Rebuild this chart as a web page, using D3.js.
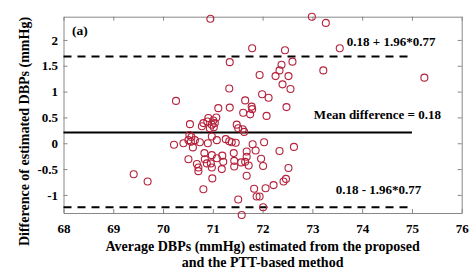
<!DOCTYPE html>
<html>
<head>
  <meta charset="UTF-8" />
  <title>Bland-Altman DBP</title>
  <script src="https://cdn.jsdelivr.net/npm/d3@7"></script>
  <style>
    body {
      margin: 0;
      padding: 0;
      background: #fff;
    }
    svg text {
      font-family: 'Liberation Serif', 'Times New Roman', serif;
      font-weight: bold;
      fill: #000;
    }
    .axis path,
    .axis line {
      stroke: #888;
    }
  </style>
</head>
<body>
  <div id="chart"></div>

<script>
  // Values
  // average DBPs (mmHg), x of each point
  const avgDBP = [
    70.95, 72.99, 73.27, 71.79, 72.45, 73.55, 72.60, 71.34, 72.38, 72.34,
    73.22, 75.25, 71.94, 72.26, 72.52, 72.40, 72.56, 71.33, 71.99, 72.12,
    70.26, 71.65, 71.11, 71.34, 71.78, 71.79, 72.48, 71.61, 71.75, 72.08,
    69.41, 69.69, 70.54, 70.91, 71.07, 70.81, 70.89, 71.01, 70.78, 70.98,
    71.04, 70.94, 71.02, 71.48, 71.51, 71.60, 71.63, 70.53, 70.57, 70.51,
    70.56, 70.64, 70.98, 71.08, 71.26, 71.33, 71.38, 71.46, 70.22, 70.41,
    70.60, 70.74, 70.90, 71.80, 72.03, 71.68, 71.86, 72.34, 72.63, 70.83,
    70.98, 71.19, 71.42, 70.51, 70.84, 71.08, 71.43, 71.57, 71.65, 71.68,
    71.97, 70.68, 70.88, 70.96, 71.21, 71.43, 71.72, 72.01, 70.71, 70.71,
    70.98, 71.18, 71.68, 70.99, 70.81, 71.83, 72.06, 72.22, 72.42, 72.47,
    72.52, 71.88, 71.94, 71.51, 72.01, 71.58
  ]
  // difference of estimated DBPs (mmHg), y of each point
  const diffDBP = [
    2.41, 2.45, 2.33, 1.84, 1.80, 1.84, 1.58, 1.57, 1.52, 1.41,
    1.41, 1.27, 1.32, 1.30, 1.30, 1.14, 1.05, 1.06, 0.95, 0.88,
    0.82, 0.83, 0.68, 0.69, 0.71, 0.66, 0.70, 0.59, 0.56, 0.53,
    -0.60, -0.74, 0.37, 0.49, 0.50, 0.39, 0.42, 0.44, 0.33, 0.36,
    0.39, 0.29, 0.31, 0.36, 0.29, 0.27, 0.22, 0.16, 0.12, 0.06,
    0.03, 0.06, 0.13, 0.06, 0.08, 0.04, 0.02, 0.01, -0.03, 0.00,
    -0.08, 0.02, 0.00, -0.02, 0.02, -0.16, -0.14, -0.15, -0.07, -0.19,
    -0.23, -0.24, -0.19, -0.31, -0.31, -0.29, -0.34, -0.37, -0.36, -0.26,
    -0.30, -0.40, -0.39, -0.39, -0.36, -0.45, -0.43, -0.44, -0.47, -0.54,
    -0.47, -0.50, -0.63, -0.68, -0.89, -0.88, -0.87, -0.81, -0.74, -0.69,
    -0.48, -1.03, -1.03, -1.09, -1.24, -1.39
  ]

  // reference lines (position as drawn in the figure)
  const meanDiff = 0.21
  const upperLoA = 1.68
  const lowerLoA = -1.24
  const lineSpan = [68, 75]

  const xTicks = [68, 69, 70, 71, 72, 73, 74, 75, 76]
  const yTicks = [-1, -0.5, 0, 0.5, 1, 1.5, 2]

  const width = 471
  const height = 274
  const margin = { top: 16.7, right: 9.3, bottom: 61, left: 63.5 }
  const plotW = width - margin.left - margin.right
  const plotH = height - margin.top - margin.bottom

  const svg = d3
    .select('#chart')
    .append('svg')
    .attr('width', width)
    .attr('height', height)

  const g = svg
    .append('g')
    .attr('transform', `translate(${margin.left},${margin.top})`)

  const x = d3.scaleLinear().domain([68, 76]).range([0, plotW])
  const y = d3.scaleLinear().domain([-1.35, 2.45]).range([plotH, 0])

  // axes, ticks pointing inward (box on)
  g.append('g')
    .attr('class', 'axis')
    .attr('transform', `translate(0,${plotH})`)
    .call(
      d3.axisBottom(x).tickValues(xTicks).tickSize(-4).tickSizeOuter(0).tickPadding(11)
    )
    .selectAll('text')
    .style('font-size', '13px')

  g.append('g')
    .attr('class', 'axis')
    .call(
      d3.axisTop(x).tickValues(xTicks).tickSize(-4).tickSizeOuter(0).tickFormat('')
    )

  g.append('g')
    .attr('class', 'axis')
    .call(
      d3.axisLeft(y).tickValues(yTicks).tickSize(-4).tickSizeOuter(0).tickPadding(5.5)
        .tickFormat((d) => String(d))
    )
    .selectAll('text')
    .style('font-size', '13px')

  g.append('g')
    .attr('class', 'axis')
    .attr('transform', `translate(${plotW},0)`)
    .call(
      d3.axisRight(y).tickValues(yTicks).tickSize(-4).tickSizeOuter(0).tickFormat('')
    )

  g.selectAll('.axis text').attr('fill', '#000')

  // limits of agreement and mean line
  const hLines = [
    { v: upperLoA, dash: '8,6' },
    { v: meanDiff, dash: null },
    { v: lowerLoA, dash: '8,6' },
  ]
  g.selectAll('.hline')
    .data(hLines)
    .enter()
    .append('line')
    .attr('class', 'hline')
    .attr('x1', x(lineSpan[0]))
    .attr('x2', x(lineSpan[1]))
    .attr('y1', (d) => y(d.v))
    .attr('y2', (d) => y(d.v))
    .attr('stroke', '#000')
    .attr('stroke-width', 2)
    .attr('stroke-dasharray', (d) => d.dash)

  // scatter points
  const points = avgDBP.map((a, i) => [a, diffDBP[i]])
  g.selectAll('.pt')
    .data(points)
    .enter()
    .append('circle')
    .attr('class', 'pt')
    .attr('cx', (d) => x(d[0]))
    .attr('cy', (d) => y(d[1]))
    .attr('r', 3.5)
    .attr('fill', 'none')
    .attr('stroke', '#b5213b')
    .attr('stroke-width', 1.1)

  // annotations
  const notes = [
    { t: '(a)', x: 68.17, y: 2.1, size: 13.5 },
    { t: '0.18 + 1.96*0.77', x: 73.69, y: 1.88, size: 13 },
    { t: 'Mean difference = 0.18', x: 73.03, y: 0.46, size: 13 },
    { t: '0.18 - 1.96*0.77', x: 73.47, y: -0.98, size: 13 },
  ]
  g.selectAll('.note')
    .data(notes)
    .enter()
    .append('text')
    .attr('class', 'note')
    .attr('x', (d) => x(d.x))
    .attr('y', (d) => y(d.y))
    .style('font-size', (d) => d.size + 'px')
    .text((d) => d.t)

  // axis titles
  const xTitle = svg
    .append('text')
    .attr('text-anchor', 'middle')
    .style('font-size', '14px')
  xTitle
    .append('tspan')
    .attr('x', margin.left + plotW / 2)
    .attr('y', 250.5)
    .text('Average DBPs (mmHg) estimated from the proposed')
  xTitle
    .append('tspan')
    .attr('x', margin.left + plotW / 2)
    .attr('y', 266.5)
    .text('and the PTT-based method')

  svg
    .append('text')
    .attr('text-anchor', 'middle')
    .attr('transform', 'translate(29,131.5) rotate(-90)')
    .style('font-size', '14px')
    .text('Difference of estimated DBPs (mmHg)')
</script>
</body>
</html>
